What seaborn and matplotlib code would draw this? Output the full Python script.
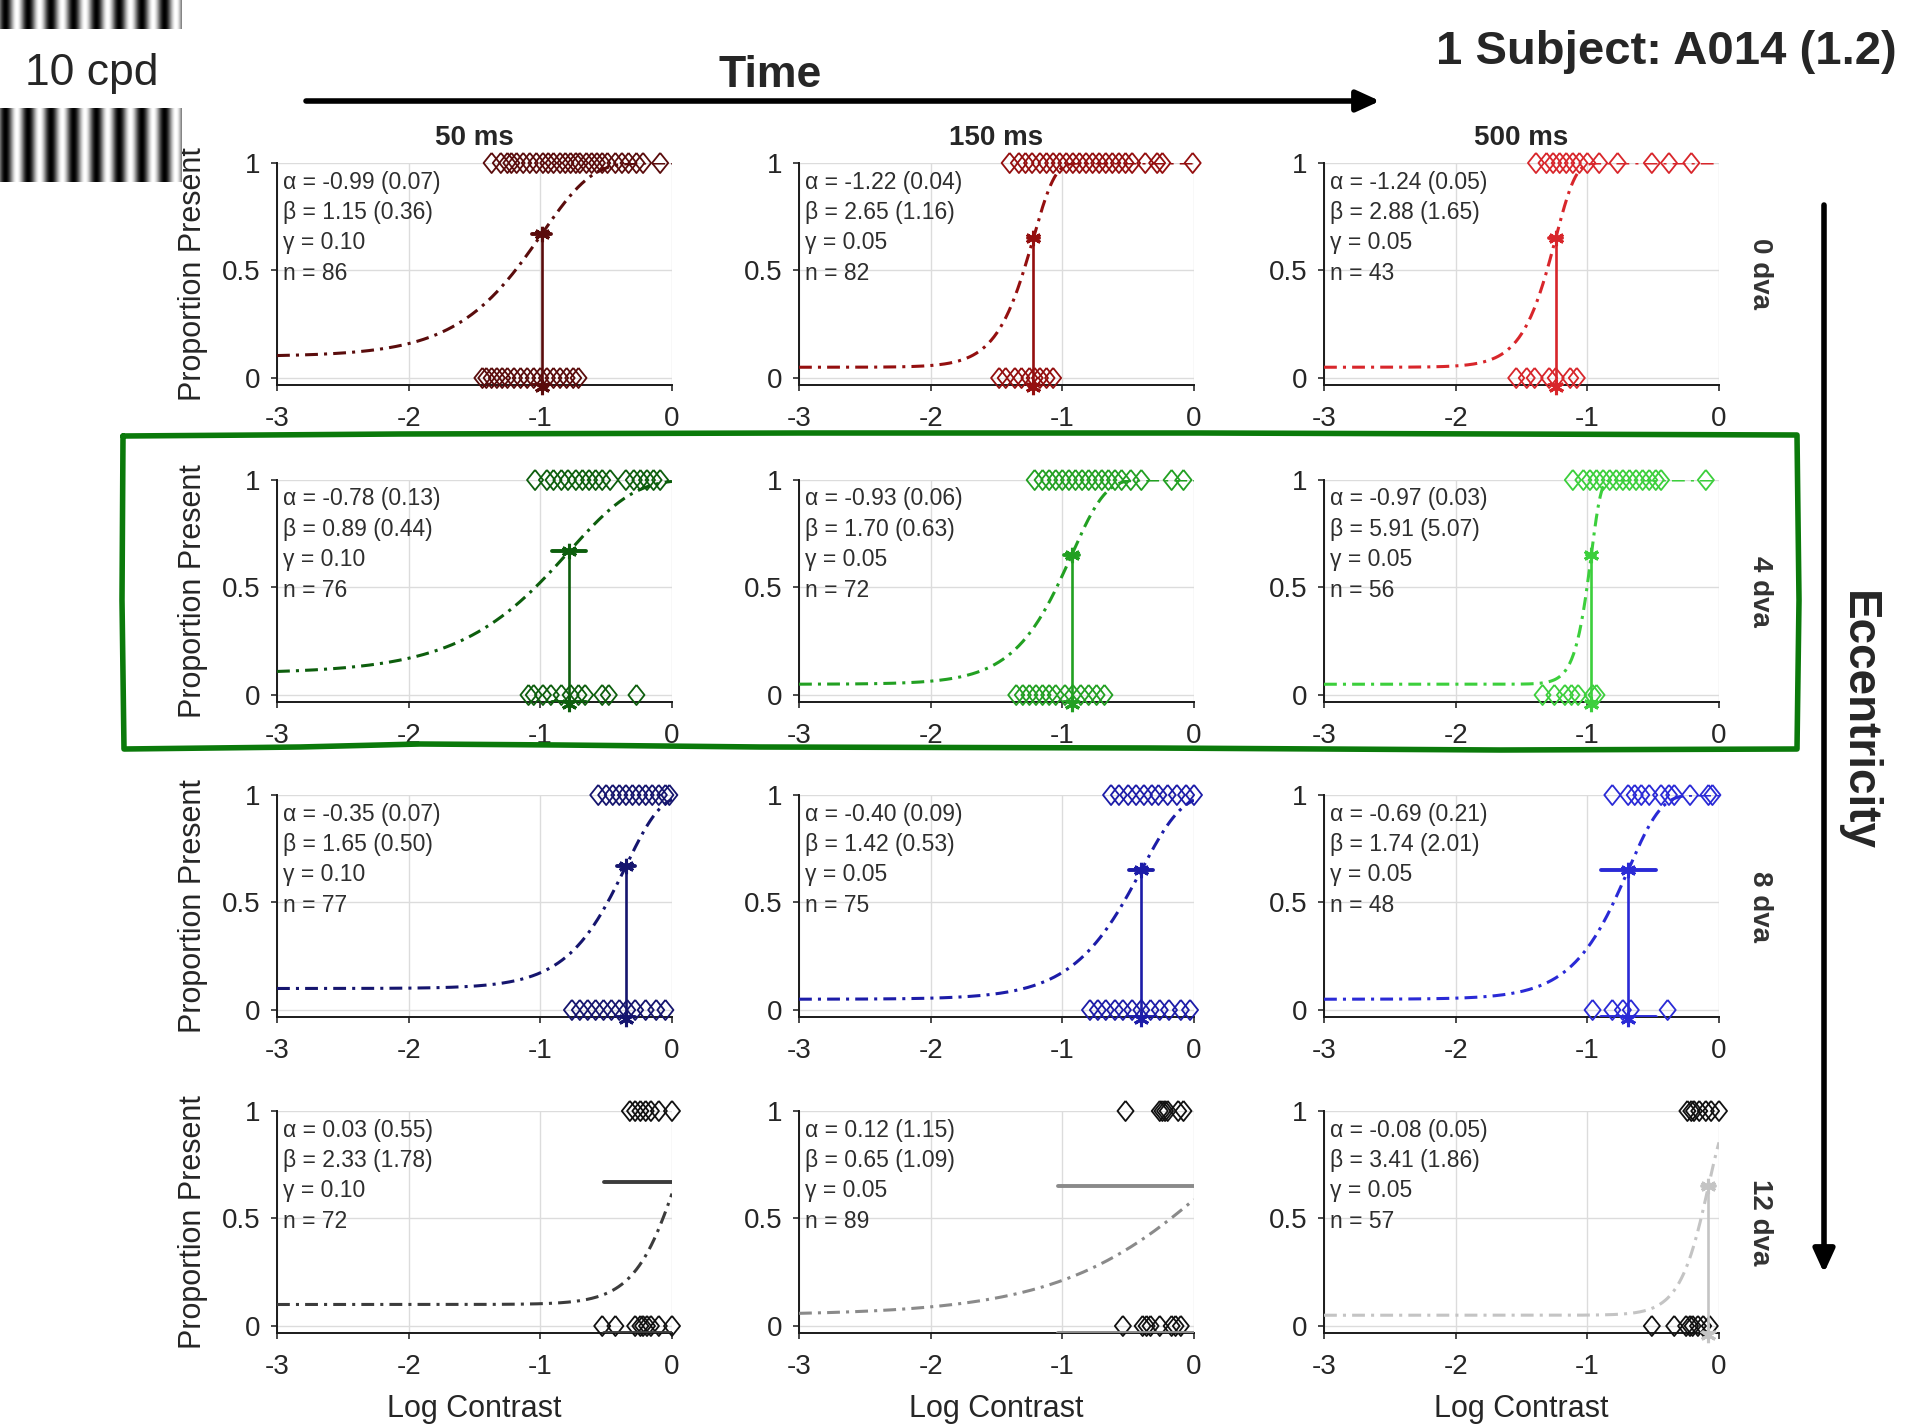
import numpy as np
import pandas as pd
import matplotlib
matplotlib.use("Agg")
import matplotlib.pyplot as plt
import seaborn as sns

# ---------------------------------------------------------------- data
DURATIONS = ["50 ms", "150 ms", "500 ms"]
ECCENTRICITIES = ["0 dva", "4 dva", "8 dva", "12 dva"]

# fitted Weibull parameters per (eccentricity row, duration column)
ALPHA = [[-0.99, -1.22, -1.24], [-0.78, -0.93, -0.97], [-0.35, -0.40, -0.69], [0.03, 0.12, -0.08]]
ALPHA_SE = [[0.07, 0.04, 0.05], [0.13, 0.06, 0.03], [0.07, 0.09, 0.21], [0.55, 1.15, 0.05]]
BETA = [[1.15, 2.65, 2.88], [0.89, 1.70, 5.91], [1.65, 1.42, 1.74], [2.33, 0.65, 3.41]]
BETA_SE = [[0.36, 1.16, 1.65], [0.44, 0.63, 5.07], [0.50, 0.53, 2.01], [1.78, 1.09, 1.86]]
GAMMA = [[0.10, 0.05, 0.05], [0.10, 0.05, 0.05], [0.10, 0.05, 0.05], [0.10, 0.05, 0.05]]
N_TRIALS = [[86, 82, 43], [76, 72, 56], [77, 75, 48], [72, 89, 57]]

# single-trial log contrasts, split by response ("present" = 1, "absent" = 0)
yes_0_50 = [-1.37, -1.30, -1.25, -1.22, -1.18, -1.13, -1.08, -1.03, -0.98, -0.94, -0.90, -0.85,
            -0.81, -0.77, -0.73, -0.70, -0.65, -0.61, -0.57, -0.53, -0.49, -0.43, -0.38, -0.33,
            -0.27, -0.22, -0.09]
no_0_50 = [-1.44, -1.41, -1.37, -1.33, -1.29, -1.25, -1.20, -1.15, -1.10, -1.05, -1.00, -0.95,
           -0.90, -0.85, -0.80, -0.75, -0.71]
yes_0_150 = [-1.40, -1.33, -1.28, -1.23, -1.17, -1.12, -1.07, -1.02, -0.97, -0.92, -0.87, -0.82,
             -0.77, -0.72, -0.67, -0.62, -0.57, -0.52, -0.47, -0.37, -0.28, -0.24, -0.01]
no_0_150 = [-1.48, -1.43, -1.36, -1.31, -1.25, -1.21, -1.17, -1.12, -1.07]
yes_0_500 = [-1.39, -1.31, -1.26, -1.21, -1.16, -1.11, -1.06, -1.00, -0.91, -0.77, -0.51, -0.38, -0.21]
no_0_500 = [-1.54, -1.46, -1.40, -1.29, -1.24, -1.13, -1.08]

yes_4_50 = [-1.04, -0.95, -0.90, -0.84, -0.79, -0.73, -0.68, -0.63, -0.58, -0.53, -0.47, -0.35,
            -0.29, -0.24, -0.19, -0.14, -0.09]
no_4_50 = [-1.09, -1.05, -0.98, -0.92, -0.84, -0.77, -0.71, -0.66, -0.53, -0.48, -0.27]
yes_4_150 = [-1.21, -1.15, -1.10, -1.05, -1.00, -0.95, -0.90, -0.85, -0.80, -0.75, -0.70, -0.65,
             -0.60, -0.55, -0.48, -0.40, -0.17, -0.08]
no_4_150 = [-1.35, -1.30, -1.25, -1.20, -1.15, -1.10, -1.05, -0.98, -0.92, -0.86, -0.80, -0.74, -0.68]
yes_4_500 = [-1.11, -1.03, -0.98, -0.93, -0.88, -0.83, -0.78, -0.73, -0.68, -0.63, -0.58, -0.53,
             -0.48, -0.44, -0.10]
no_4_500 = [-1.34, -1.25, -1.17, -1.12, -1.07, -0.96, -0.93]

yes_8_50 = [-0.56, -0.50, -0.45, -0.40, -0.35, -0.30, -0.25, -0.20, -0.15, -0.10, -0.05, -0.02]
no_8_50 = [-0.76, -0.70, -0.64, -0.58, -0.52, -0.46, -0.40, -0.34, -0.28, -0.20, -0.12, -0.05]
yes_8_150 = [-0.63, -0.57, -0.50, -0.44, -0.38, -0.32, -0.27, -0.20, -0.13, -0.06, 0.00]
no_8_150 = [-0.79, -0.73, -0.67, -0.60, -0.54, -0.47, -0.40, -0.33, -0.26, -0.19, -0.10, -0.03]
yes_8_500 = [-0.81, -0.69, -0.64, -0.59, -0.53, -0.44, -0.38, -0.34, -0.22, -0.08, -0.05]
no_8_500 = [-0.96, -0.81, -0.73, -0.67, -0.39]

yes_12_50 = [-0.32, -0.28, -0.24, -0.20, -0.16, -0.10, 0.00]
no_12_50 = [-0.53, -0.43, -0.28, -0.24, -0.22, -0.19, -0.16, -0.10, 0.00]
yes_12_150 = [-0.52, -0.26, -0.24, -0.22, -0.20, -0.12, -0.08]
no_12_150 = [-0.54, -0.39, -0.36, -0.33, -0.26, -0.17, -0.14, -0.10]
yes_12_500 = [-0.24, -0.21, -0.19, -0.15, -0.10, -0.06, 0.00]
no_12_500 = [-0.51, -0.34, -0.25, -0.22, -0.20, -0.16, -0.12, -0.07]

YES = [[yes_0_50, yes_0_150, yes_0_500], [yes_4_50, yes_4_150, yes_4_500],
       [yes_8_50, yes_8_150, yes_8_500], [yes_12_50, yes_12_150, yes_12_500]]
NO = [[no_0_50, no_0_150, no_0_500], [no_4_50, no_4_150, no_4_500],
      [no_8_50, no_8_150, no_8_500], [no_12_50, no_12_150, no_12_500]]

# ---------------------------------------------------------------- style
CURVE_COLORS = [["#5a0c0c", "#940f0f", "#d8262b"],
                ["#0d5e0d", "#22a022", "#3ccf3c"],
                ["#15156e", "#1c1ca8", "#2a2ad6"],
                ["#3c3c3c", "#8a8a8a", "#c4c4c4"]]
MARKER_COLORS = [CURVE_COLORS[0], CURVE_COLORS[1], CURVE_COLORS[2],
                 ["#111111", "#111111", "#111111"]]

sns.set_style("ticks")
plt.rcParams["font.family"] = ["Liberation Sans", "DejaVu Sans"]
plt.rcParams["axes.unicode_minus"] = False

W, H = 1917, 1425
fig = plt.figure(figsize=(W / 100, H / 100), dpi=100)


def px_axes(left, top, width, height, **kw):
    return fig.add_axes([left / W, 1 - (top + height) / H, width / W, height / H], **kw)


def weibull(x, a, b, g):
    return g + (1 - g) * (1 - np.exp(-10 ** (b * (x - a))))


LEFTS = [277, 799, 1324]
TOPS = [163, 480, 795, 1111]
AX_W, AX_H = 395, 222
YMIN = -0.0326
xs = np.linspace(-3, 0, 400)
asterisk = (6, 2, 0)
# slightly tall open diamond, as used for single trials
diamond = [(0, 1), (0.8, 0), (0, -1), (-0.8, 0), (0, 1)]

for r in range(4):
    for c in range(3):
        ax = px_axes(LEFTS[c], TOPS[r], AX_W, AX_H)
        a, b, g = ALPHA[r][c], BETA[r][c], GAMMA[r][c]
        cc, mc = CURVE_COLORS[r][c], MARKER_COLORS[r][c]

        ax.set_xlim(-3, 0)
        ax.set_ylim(YMIN, 1)
        ax.grid(True, color="#dcdcdc", lw=1.0)
        ax.set_axisbelow(True)

        # fitted psychometric function
        curve = pd.DataFrame({"x": xs, "p": weibull(xs, a, b, g)})
        sns.lineplot(data=curve, x="x", y="p", ax=ax, color=cc, lw=2.2,
                     linestyle=(0, (4.2, 2.0, 1.0, 2.0)), zorder=3)

        # single trials
        trials = pd.DataFrame({"x": YES[r][c] + NO[r][c],
                               "y": [1.0] * len(YES[r][c]) + [0.0] * len(NO[r][c])})
        sns.scatterplot(data=trials, x="x", y="y", ax=ax, marker=diamond, s=210,
                        color=mc, facecolor="none", edgecolor=mc, linewidth=1.3,
                        clip_on=False, zorder=4)

        # threshold with its standard error
        pa = weibull(a, a, b, g)
        se = ALPHA_SE[r][c]
        ax.plot([a, a], [pa, YMIN - 0.008], color=cc, lw=1.9, zorder=5)
        ax.plot([a - se, a + se], [pa, pa], color=cc, lw=2.8, zorder=5)
        ax.plot([a - se, a + se], [YMIN, YMIN], color=cc, lw=2.8, zorder=5)
        if -3 <= a <= 0:
            ax.plot([a, a], [pa, YMIN - 0.008], ls="none", marker=asterisk, ms=11,
                    mew=2.2, color=cc, clip_on=False, zorder=6)

        # parameter read-out
        lines = [f"α = {a:.2f} ({se:.2f})",
                 f"β = {b:.2f} ({BETA_SE[r][c]:.2f})",
                 f"γ = {g:.2f}",
                 f"n = {N_TRIALS[r][c]}"]
        for k, txt in enumerate(lines):
            ax.text(0.014, 1 - (19 + 30.5 * k) / AX_H, txt, transform=ax.transAxes,
                    ha="left", va="center", fontsize=16.5, color="#2e2e2e", zorder=7)

        sns.despine(ax=ax)
        for side in ("left", "bottom"):
            ax.spines[side].set_color("#1a1a1a")
            ax.spines[side].set_linewidth(1.4)
        ax.set_xticks([-3, -2, -1, 0])
        ax.set_xticklabels(["-3", "-2", "-1", "0"])
        ax.set_yticks([0, 0.5, 1])
        ax.set_yticklabels(["0", "0.5", "1"])
        ax.tick_params(direction="out", length=4, width=1.1, labelsize=20,
                       color="#1a1a1a", labelcolor="#262626", pad=8)
        ax.tick_params(axis="x", pad=11)
        ax.set_xlabel("")
        ax.set_ylabel("")
        if c == 0:
            ax.set_ylabel("Proportion Present", fontsize=22, color="#262626")
            ax.yaxis.set_label_coords(-0.175, 0.5)
        if r == 3:
            ax.set_xlabel("Log Contrast", fontsize=22, color="#262626", va="top")
            ax.xaxis.set_label_coords(0.5, -0.275)
        if r == 0:
            ax.text(0.5, 1 + 25 / AX_H, DURATIONS[c], transform=ax.transAxes,
                    ha="center", va="center", fontsize=20, fontweight="bold")
    fig.text(1760 / W, 1 - (TOPS[r] + AX_H / 2) / H, ECCENTRICITIES[r], rotation=-90,
             ha="center", va="center", fontsize=20, fontweight="bold", color="#333333")

# ---------------------------------------------------------------- stimulus gratings
gx = np.arange(181)
grating = 0.5 - 0.5 * np.cos(2 * np.pi * (gx - 5) / 22.6)
for top, height in ((0, 29), (108, 74)):
    gax = px_axes(0, top, 181, height)
    gax.imshow(np.tile(grating, (height, 1)), cmap="gray", vmin=0, vmax=1,
               aspect="auto", interpolation="bilinear")
    gax.set_axis_off()
fig.text(92 / W, 1 - 74 / H, "10 cpd", ha="center", va="center", fontsize=32)

# ---------------------------------------------------------------- overlay annotations
ov = fig.add_axes([0, 0, 1, 1], zorder=10)
ov.set_xlim(0, W)
ov.set_ylim(H, 0)
ov.set_axis_off()
ov.patch.set_alpha(0)

arrow = dict(arrowstyle="-|>,head_length=0.7,head_width=0.32", lw=4, color="black",
             mutation_scale=20, shrinkA=0, shrinkB=0)
ov.annotate("", xy=(1380, 101), xytext=(306, 101), arrowprops=arrow)
ov.annotate("", xy=(1824, 1273), xytext=(1824, 205), arrowprops=arrow)
ov.text(770, 75, "Time", ha="center", va="center", fontsize=32, fontweight="bold")
ov.text(1858, 721, "Eccentricity", ha="center", va="center", rotation=-90,
        fontsize=33, fontweight="bold")
ov.text(1897, 52, "1 Subject: A014 (1.2)", ha="right", va="center",
        fontsize=34, fontweight="bold")

# hand-drawn highlight around the 4 dva row
box_x = [123, 400, 800, 1200, 1500, 1797, 1799, 1797, 1500, 1150, 760, 560, 420, 300, 124, 122, 123]
box_y = [436, 434, 433, 433, 434, 435, 600, 749, 750, 748, 747, 745, 744, 747, 749, 600, 436]
ov.plot(box_x, box_y, color="#0b7a0b", lw=4.0, solid_joinstyle="round",
        solid_capstyle="round")

fig.savefig("out.png", dpi=100)
